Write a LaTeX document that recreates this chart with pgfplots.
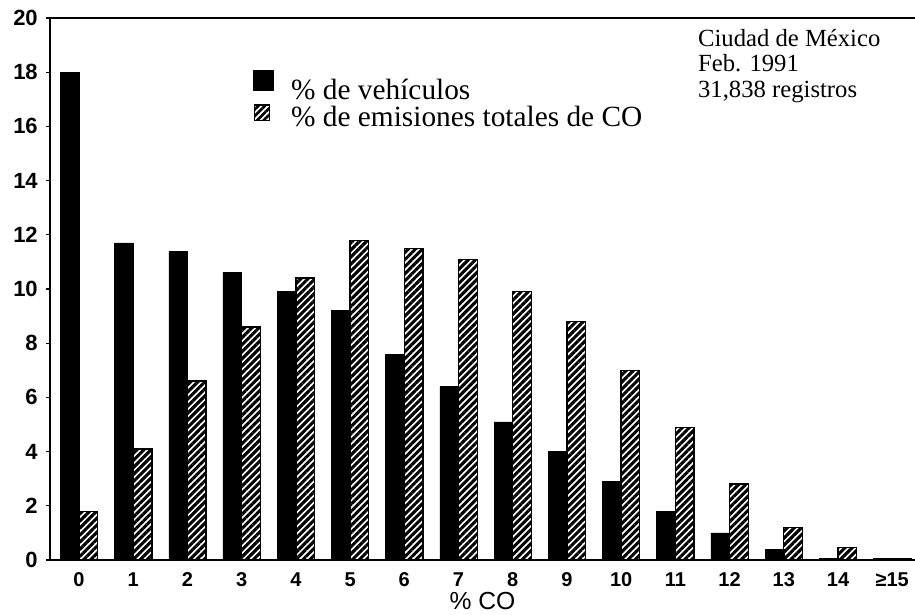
\documentclass[border=0pt]{standalone}
\usepackage{fontspec}
\setmainfont{Liberation Serif}
\newfontfamily\lsans{Liberation Sans}
\usepackage{pgfplots}
\usepackage{pgfplotstable}
\pgfplotsset{compat=1.18}
\usetikzlibrary{patterns.meta}

\pgfplotstableread{
x  veh   emi
0  18.0  1.8
1  11.7  4.1
2  11.4  6.6
3  10.6  8.6
4  9.9   10.4
5  9.2   11.8
6  7.6   11.5
7  6.4   11.1
8  5.1   9.9
9  4.0   8.8
10 2.9   7.0
11 1.8   4.9
12 1.0   2.8
13 0.4   1.2
14 0.05  0.45
15 0.05  0.05
}\datatable

\begin{document}
\begin{tikzpicture}
\begin{axis}[
  scale only axis,
  width=648.75pt, height=406.5pt,
  xmin=-0.535, xmax=15.42, ymin=0, ymax=20,
  axis x line*=bottom, axis y line*=left,
  axis line style={line width=1.8pt, -},
  ybar, bar width=14pt,
  xtick={0,1,2,3,4,5,6,7,8,9,10,11,12,13,14,15},
  xticklabels={0,1,2,3,4,5,6,7,8,9,10,11,12,13,14,≥15},
  ytick={0,2,4,6,8,10,12,14,16,18,20},
  major x tick style={draw=none},
  major y tick style={line width=0.8pt, black},
  tick align=outside, major tick length=3pt,
  /pgf/number format/assume math mode=true,
  xticklabel style={font=\lsans\bfseries\fontsize{15}{15}\selectfont, anchor=north, inner sep=0pt, yshift=-6pt},
  yticklabel style={font=\lsans\bfseries\fontsize{16.5}{16.5}\selectfont, anchor=east, inner sep=0pt, xshift=-6pt},
  xlabel={\% CO},
  xlabel style={font=\lsans\fontsize{18.5}{18.5}\selectfont, at={(axis description cs:0.5,0)}, anchor=base, yshift=-37.5pt},
  legend style={at={(axis description cs:0.2347,0.904)}, anchor=north west, draw=none, fill=none,
    inner sep=0pt, row sep=2pt, font=\fontsize{22}{22}\selectfont,
    nodes={inner sep=0pt}},
  legend cell align=left,
  clip=false,
]
\addplot[fill=black, draw=black, bar shift=-7pt,
  legend image code/.code={\draw[fill=black,draw=black] (0pt,0pt) rectangle (14.5pt,15pt); \path (27.75pt,0pt);}]
  table[x=x, y=veh]{\datatable};
\addlegendentry{\% de vehículos}
\addplot[pattern={Lines[angle=45, distance=3.75pt, line width=2.3pt]}, pattern color=black, draw=black, line width=1pt, bar shift=7pt,
  legend image code/.code={\draw[pattern={Lines[angle=45, distance=3.5pt, line width=2pt]}, pattern color=black, draw=black, line width=1pt] (0.5pt,-2pt) rectangle (12pt,9.5pt); \path (27.75pt,0pt);}]
  table[x=x, y=emi]{\datatable};
\addlegendentry{\% de emisiones totales de CO}

\draw[line width=1.5pt] (rel axis cs:0,1) -- (rel axis cs:1,1);
\node[anchor=base west, inner sep=0pt, font=\fontsize{18.5}{20}\selectfont] at (axis description cs:0.749,0.9483) {Ciudad de México};
\node[anchor=base west, inner sep=0pt, font=\fontsize{18.5}{20}\selectfont] at (axis description cs:0.749,0.9004) {Feb. 1991};
\node[anchor=base west, inner sep=0pt, font=\fontsize{18.5}{20}\selectfont] at (axis description cs:0.749,0.8524) {31,838 registros};
\coordinate (bl) at (rel axis cs:0,0);
\coordinate (tr) at (rel axis cs:1,1);
\end{axis}
\pgfresetboundingbox
\path[use as bounding box] ([xshift=-37.5pt,yshift=-41.25pt]bl) rectangle ([yshift=13.5pt]tr);
\end{tikzpicture}
\end{document}
